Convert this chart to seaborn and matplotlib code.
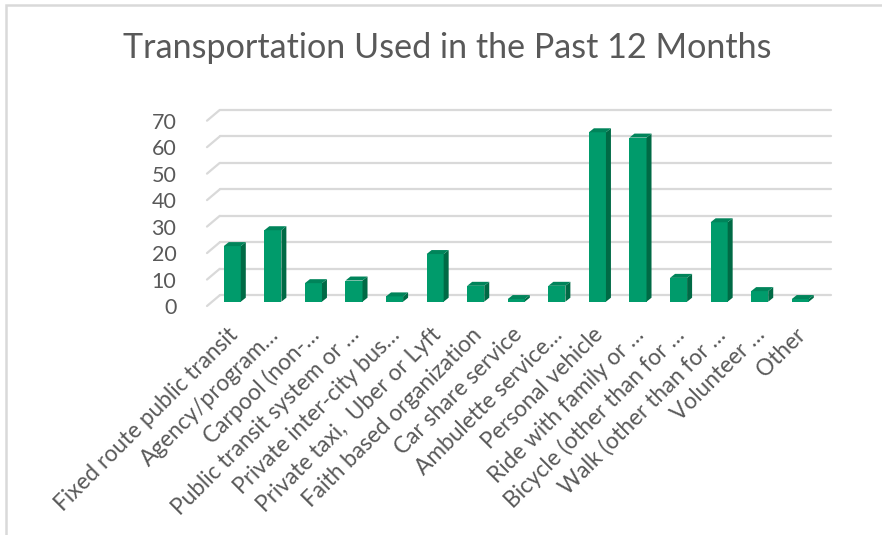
import matplotlib
matplotlib.use("Agg")
import matplotlib.pyplot as plt
from matplotlib.patches import Polygon, Rectangle
from matplotlib.transforms import ScaledTranslation, IdentityTransform
import numpy as np
import pandas as pd
import seaborn as sns

categories = [
    "Fixed route public transit",
    "Agency/program…",
    "Carpool (non-…",
    "Public transit system or …",
    "Private inter-city bus…",
    "Private taxi,  Uber or Lyft",
    "Faith based organization",
    "Car share service",
    "Ambulette service…",
    "Personal vehicle",
    "Ride with family or …",
    "Bicycle (other than for …",
    "Walk (other than for …",
    "Volunteer …",
    "Other",
]
counts = [21, 27, 7, 8, 2, 18, 6, 1, 6, 64, 62, 9, 30, 4, 1]
yticks = [0, 10, 20, 30, 40, 50, 60, 70]

title = "Transportation Used in the Past 12 Months"
text_color = "#595959"
grid_color = "#D9D9D9"
front_color = "#009B6B"
side_color = "#006A45"
top_color = "#00845A"

sns.set_theme(style="white")
plt.rcParams["font.family"] = ["Lato", "DejaVu Sans"]

df = pd.DataFrame({"mode": categories, "count": counts})

W, H = 882, 535
fig = plt.figure(figsize=(W / 100, H / 100), dpi=100)
# axes = front plane of the floor
ax = fig.add_axes([207 / W, (H - 306) / H, (818 - 207) / W, (306 - 120.7) / H])

sns.barplot(data=df, x="mode", y="count", color=front_color, width=0.42,
            saturation=1, ax=ax, zorder=3)

ax.set_xlim(-0.5, 14.56)
ax.set_ylim(0, 70)

# pseudo 3d offsets, in pixels
fx, fy = 5.0, 4.3      # bar front face relative to floor front
bx, by = 5.0, 4.0      # bar depth
wx, wy = 12.7, 10.7    # back wall relative to floor front

px = fig.dpi_scale_trans
front_off = ax.transData + ScaledTranslation(fx / 100, fy / 100, px)
back_off = ax.transData + ScaledTranslation(wx / 100, wy / 100, px)

# gridlines on the back wall plus diagonals on the left wall
x0, x1 = ax.get_xlim()
for v in yticks:
    ax.plot([x0, x1], [v, v], color=grid_color, lw=1.6, transform=back_off,
            clip_on=False, zorder=1)
    sx, sy = ax.transData.transform((x0, v))
    ax.plot([sx, sx + wx], [sy, sy + wy], color=grid_color, lw=1.6,
            transform=IdentityTransform(), clip_on=False, zorder=1)

for p in ax.patches:
    p.set_transform(front_off)
    p.set_edgecolor("none")
    p.set_clip_on(False)
    x, w, h = p.get_x(), p.get_width(), p.get_height()
    (lx, by0), (rx, ty) = front_off.transform([(x, 0), (x + w, h)])
    side = [(rx, by0), (rx + bx, by0 + by), (rx + bx, ty + by), (rx, ty)]
    top = [(lx, ty), (rx, ty), (rx + bx, ty + by), (lx + bx, ty + by)]
    ax.add_patch(Polygon(side, closed=True, facecolor=side_color, edgecolor="none",
                         transform=IdentityTransform(), clip_on=False, zorder=3))
    ax.add_patch(Polygon(top, closed=True, facecolor=top_color, edgecolor="none",
                         transform=IdentityTransform(), clip_on=False, zorder=3))

ax.set_xlim(x0, x1)
ax.set_ylim(0, 70)
ax.set_yticks(yticks)
ax.set_xlabel("")
ax.set_ylabel("")
sns.despine(ax=ax, left=True, bottom=True)
ax.tick_params(axis="y", length=0, pad=22, labelsize=15.5, labelcolor=text_color)
ax.tick_params(axis="x", length=0, pad=13, labelsize=16.3, labelcolor=text_color)
plt.setp(ax.get_xticklabels(), rotation=45, ha="right", rotation_mode="anchor")

fig.text(447 / W, 1 - 48 / H, title, ha="center", va="center", fontsize=24.6,
         color=text_color)

# chart frame
fig.patches.append(Rectangle((5.5 / W, -0.1), 1.1, 1.1 - 4.5 / H + 0.0,
                             transform=fig.transFigure, fill=False,
                             edgecolor=grid_color, lw=1.8))

fig.savefig("out.png", dpi=100, facecolor="white")
